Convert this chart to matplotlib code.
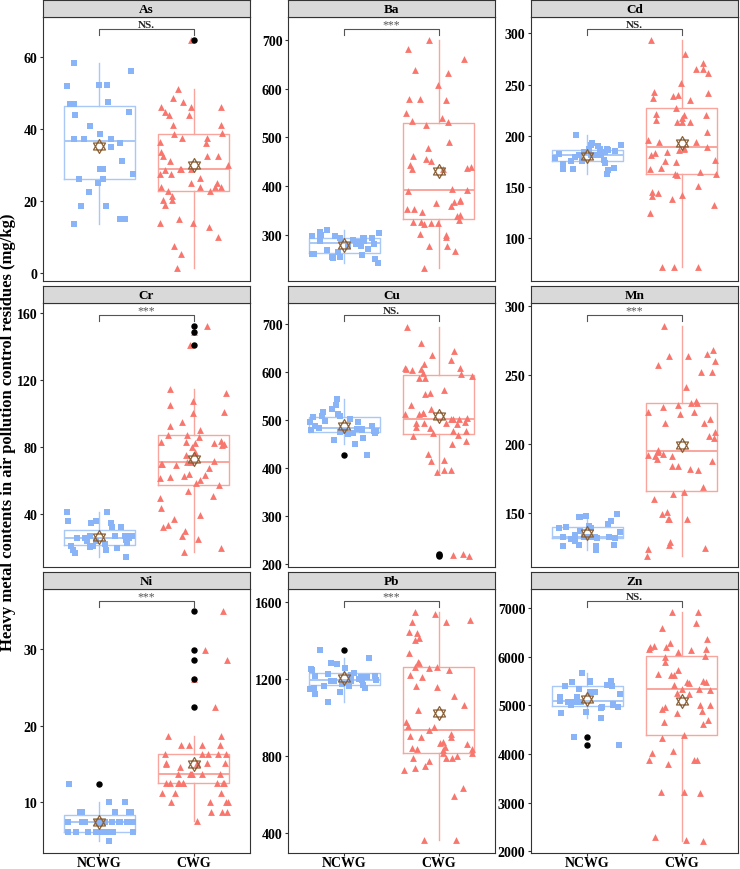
import numpy as np
import matplotlib
matplotlib.use('Agg')
import matplotlib.pyplot as plt
from matplotlib.path import Path
from matplotlib.transforms import blended_transform_factory

plt.rcParams['font.family'] = ['Liberation Serif', 'DejaVu Serif']
plt.rcParams['font.weight'] = 'bold'

groups = ['NCWG', 'CWG']
metals = ['As', 'Ba', 'Cd', 'Cr', 'Cu', 'Mn', 'Ni', 'Pb', 'Zn']
signif = ['NS.', '***', 'NS.', '***', 'NS.', '***', '***', '***', 'NS.']

as_ncwg = [47.0, 52.2, 52.3, 52.0, 43.9, 44.6, 47.0, 58.4, 56.0, 47.4, 40.8, 38.6, 37.1, 37.1, 37.2,
           36.1, 35.0, 28.8, 31.0, 28.8, 27.5, 26.2, 26.2, 25.0, 22.5, 18.7, 18.7, 15.0, 15.0, 13.7]
as_cwg = [64.6, 51.1, 44.8, 46.2, 43.9, 43.9, 36.0, 41.1, 41.1, 38.6, 46.2, 48.7, 47.6, 46.2, 38.8,
          37.6, 37.6, 36.3, 31.2, 30.0, 28.8, 32.4, 32.4, 33.7, 32.4, 26.4, 28.8, 28.8, 28.7, 27.5,
          27.5, 25.0, 25.0, 22.7, 22.7, 20.2, 20.2, 23.8, 23.8, 23.8, 23.8, 21.4, 18.8, 13.8, 15.0,
          12.7, 13.8, 10.1, 7.6, 5.2, 1.4]

ba_ncwg = [243, 251, 254, 255, 257, 261, 263, 263, 266, 270, 273, 279, 279, 282, 286, 288, 282, 289,
           291, 294, 294, 294, 295, 295, 299, 299, 301, 306, 308, 311]
ba_cwg = [699, 680, 661, 632, 638, 607, 579, 577, 578, 549, 534, 539, 532, 526, 491, 479, 463, 456,
          451, 438, 436, 444, 436, 440, 392, 394, 391, 371, 361, 354, 366, 354, 372, 369, 342, 339,
          348, 332, 327, 328, 325, 325, 323, 300, 297, 303, 279, 278, 269, 234]

cd_ncwg = [186, 176, 191, 187, 187, 176, 191, 182, 179, 181, 178, 168, 167, 163, 181, 185, 174, 168,
           190, 201, 184, 181, 173, 169, 181, 177, 193, 187, 184, 181]
cd_cwg = [293.5, 280, 271, 265, 265, 252, 261, 243, 242, 239, 237, 235, 240, 214, 220, 216, 214, 227,
          220, 217, 221, 214, 204, 194, 196, 181, 186, 177, 168, 163, 187, 183, 175, 169, 194, 188,
          184, 176, 189, 165, 162, 163, 151, 133, 145, 144, 138, 142, 141, 125, 72, 72, 72]

cr_ncwg = [41, 41, 36, 36, 14.6, 27, 27, 24.6, 26, 21, 20, 20.6, 17, 22, 21, 34.6, 32, 27, 24, 18.6,
           23, 27, 27, 18.6, 32, 34.6, 25.8, 25.8, 27, 24]
cr_cwg = [152.4, 148.8, 141, 112.5, 114.9, 107.5, 105, 101, 100.5, 95, 92.5, 90, 87, 87, 83, 83, 86,
          82.5, 83.5, 81, 82, 82.5, 80, 77, 75, 71, 70, 71.5, 69.5, 70, 71, 67.5, 64, 62.5, 63.5, 62,
          61.5, 60.6, 58.6, 57.5, 53.6, 51, 49.5, 43.6, 39.6, 37.2, 32.2, 33.6, 30, 27, 25, 20, 17.4]

cu_ncwg = [508, 502, 496, 531, 523, 544, 506, 470, 472, 479, 477, 459, 450, 508, 498, 487, 480, 472,
           426, 477, 484, 479, 516, 513, 496, 475, 477, 463, 487, 481]
cu_cwg = [694, 659, 644, 625, 635, 617, 595, 597, 605, 605, 607, 607, 604, 592, 586, 586, 562, 553,
          555, 531, 523, 513, 512, 503, 514, 515, 502, 496, 493, 484, 502, 502, 493, 493, 486, 491,
          476, 477, 468, 472, 466, 455, 450, 416, 395, 414, 430, 395, 391, 219, 217, 221]

mn_ncwg = [147, 147, 149, 137, 142, 139, 133, 133, 133, 127, 126, 123, 126, 133, 144, 139, 136, 140,
           141, 134, 132, 133, 133, 130, 133, 127, 132, 133, 148, 131]
mn_cwg = [285, 268, 264, 265, 264, 260, 257, 252, 252, 241, 231, 230, 228, 230, 227, 223, 223, 222,
          218, 215, 215, 209, 206, 204, 196, 194, 193, 191, 191, 189, 192, 188, 184, 182, 184, 181,
          169, 164, 165, 160, 151, 149, 146, 146, 146, 129, 127, 125, 124, 119]

ni_ncwg = [12.4, 10.0, 10.0, 8.7, 8.7, 8.7, 8.7, 8.7, 7.4, 7.4, 7.4, 7.4, 7.4, 7.4, 7.4, 7.4, 7.4,
           7.4, 7.4, 7.4, 6.2, 6.2, 6.2, 6.2, 6.2, 6.2, 6.2, 6.2, 6.2, 4.95]
ni_cwg = [35.0, 29.9, 28.6, 26.2, 22.5, 18.7, 18.7, 17.5, 17.5, 17.5, 17.5, 16.3, 16.3, 16.3, 16.3,
          16.3, 15.1, 15.1, 15.1, 15.1, 14.6, 15.0, 13.7, 13.7, 13.7, 13.7, 13.7, 13.7, 12.5, 12.5,
          12.5, 12.5, 12.5, 12.5, 12.5, 12.5, 12.5, 11.3, 11.3, 11.3, 10.0, 10.0, 10.0, 10.0, 8.7,
          8.7, 8.7, 7.6]

pb_ncwg = [1354, 1309, 1280, 1285, 1257, 1248, 1254, 1228, 1224, 1198, 1195, 1214, 1219, 1231, 1210,
           1193, 1219, 1155, 1172, 1167, 1155, 1176, 1150, 1167, 1132, 1124, 1080, 1193, 1189, 1200]
pb_cwg = [1552, 1539, 1496, 1508, 1496, 1448, 1441, 1415, 1404, 1335, 1292, 1285, 1266, 1248, 1259,
          1262, 1224, 1210, 1167, 1162, 1068, 1112, 1042, 977, 956, 951, 937, 916, 908, 899, 899, 873,
          869, 864, 843, 838, 834, 815, 818, 838, 846, 800, 791, 791, 789, 751, 777, 740, 729, 634,
          592, 365, 365]

zn_ncwg = [5664, 5404, 5281, 5507, 5418, 4973, 5014, 4938, 4842, 5281, 5090, 5493, 5473, 5178, 5062,
           4973, 4870, 5075, 5164, 5486, 5404, 5233, 5336, 5027, 5014, 5075, 5075, 4733, 4342, 4185]
zn_cwg = [6925, 6911, 6685, 6582, 6363, 6281, 6226, 6205, 6103, 6137, 6192, 6021, 6000, 6158, 6158,
          5897, 5644, 5726, 5630, 5630, 5473, 5473, 5452, 5418, 5493, 5336, 5336, 5315, 5233, 5247,
          4973, 5014, 5014, 4890, 4925, 4836, 4705, 4651, 4616, 4397, 4322, 4068, 4021, 3884, 3884,
          3877, 3795, 3192, 3226, 3212, 2219, 2233, 2302]

y_ticks = {
    'As': [0, 20, 40, 60], 'Ba': [300, 400, 500, 600, 700], 'Cd': [100, 150, 200, 250, 300],
    'Cr': [40, 80, 120, 160], 'Cu': [200, 300, 400, 500, 600, 700], 'Mn': [150, 200, 250, 300],
    'Ni': [10, 20, 30], 'Pb': [400, 800, 1200, 1600], 'Zn': [2000, 3000, 4000, 5000, 6000, 7000],
}
y_lims = {
    'As': (-2.2, 71.1), 'Ba': (207, 746), 'Cd': (58.5, 316), 'Cr': (8.4, 166), 'Cu': (194, 743),
    'Mn': (111, 302), 'Ni': (3.4, 37.9), 'Pb': (298, 1669), 'Zn': (1965, 7390),
}

data = {
    'As': (as_ncwg, as_cwg), 'Ba': (ba_ncwg, ba_cwg), 'Cd': (cd_ncwg, cd_cwg),
    'Cr': (cr_ncwg, cr_cwg), 'Cu': (cu_ncwg, cu_cwg), 'Mn': (mn_ncwg, mn_cwg),
    'Ni': (ni_ncwg, ni_cwg), 'Pb': (pb_ncwg, pb_cwg), 'Zn': (zn_ncwg, zn_cwg),
}

pt_colors = ['#8AB4F8', '#F8766D']
box_colors = ['#A9C8F6', '#F9A59D']
markers = ['s', '^']
msizes = [14, 24]
star_color = '#8B6239'

# hexagram marker (two overlapping triangles)
s3 = np.sqrt(3) / 2
verts = [(0, 1), (-s3, -0.5), (s3, -0.5), (0, 1),
         (0, -1), (-s3, 0.5), (s3, 0.5), (0, -1)]
codes = [Path.MOVETO, Path.LINETO, Path.LINETO, Path.CLOSEPOLY] * 2
star = Path(verts, codes)

W, H = 740, 870
fig = plt.figure(figsize=(W / 100, H / 100), dpi=100)

col_left = [43, 288, 531]
panel_w = 207
row_top = [18, 304, 590]
panel_h = 264
strip_h = 17

rng = np.random.default_rng(11)

for i, m in enumerate(metals):
    r, c = divmod(i, 3)
    l, t = col_left[c], row_top[r]
    ax = fig.add_axes([l / W, 1 - (t + panel_h) / H, panel_w / W, panel_h / H])
    sax = fig.add_axes([l / W, 1 - t / H, panel_w / W, strip_h / H])
    sax.set_facecolor('#D9D9D9')
    sax.set_xticks([]); sax.set_yticks([])
    for sp in sax.spines.values():
        sp.set_color('#333333'); sp.set_linewidth(0.8)
    sax.text(0.5, 0.45, m, ha='center', va='center', fontsize=9.5, fontweight='bold',
             transform=sax.transAxes)

    vals = data[m]
    for g in range(2):
        v = np.asarray(vals[g], dtype=float)
        bp = ax.boxplot([v], positions=[g + 1], widths=0.75, showcaps=False,
                        patch_artist=False, manage_ticks=False,
                        boxprops=dict(color=box_colors[g], linewidth=1.0),
                        whiskerprops=dict(color=box_colors[g], linewidth=1.0),
                        medianprops=dict(color=box_colors[g], linewidth=1.4),
                        flierprops=dict(marker='o', markerfacecolor='black',
                                        markeredgecolor='black', markersize=3.6),
                        zorder=2)
        for fl in bp['fliers']:
            fl.set_zorder(5)
        jit = rng.uniform(-0.37, 0.37, size=len(v))
        ax.scatter(g + 1 + jit, v, marker=markers[g], s=msizes[g], color=pt_colors[g],
                   linewidths=0, zorder=3)
        ax.plot([g + 1], [v.mean()], marker=star, markersize=10, mfc='none',
                mec=star_color, mew=0.9, zorder=6, linestyle='none')

    ax.set_xlim(0.4, 2.6)
    ax.set_ylim(*y_lims[m])
    ax.set_yticks(y_ticks[m])
    ax.set_yticklabels([str(v) for v in y_ticks[m]], fontsize=10, fontweight='bold')
    if r == 2:
        ax.set_xticks([1, 2])
        ax.set_xticklabels(groups, fontsize=10, fontweight='bold')
    else:
        ax.set_xticks([])
    ax.tick_params(axis='y', length=2.5, width=0.8, color='#333333', pad=1.5)
    ax.tick_params(axis='x', length=2.0, width=0.8, color='#333333', pad=0.3)
    for sp in ax.spines.values():
        sp.set_color('#333333'); sp.set_linewidth(0.8)

    trans = blended_transform_factory(ax.transData, ax.transAxes)
    ax.plot([1, 1, 2, 2], [0.93, 0.955, 0.955, 0.93], color='#555555', lw=0.8,
            transform=trans, clip_on=False, zorder=7)
    if signif[i] == 'NS.':
        ax.text(1.5, 0.955, 'NS.', ha='center', va='bottom', fontsize=8, fontweight='bold',
                color='#222222', transform=trans)
    else:
        ax.text(1.5, 0.948, '***', ha='center', va='bottom', fontsize=8.5, fontweight='normal',
                color='#555555', transform=trans)

fig.text(0.0105, 0.503, 'Heavy metal contents in air pollution control residues (mg/kg)',
         rotation=90, ha='center', va='center', fontsize=12, fontweight='bold')

fig.savefig('out.png', dpi=100)
